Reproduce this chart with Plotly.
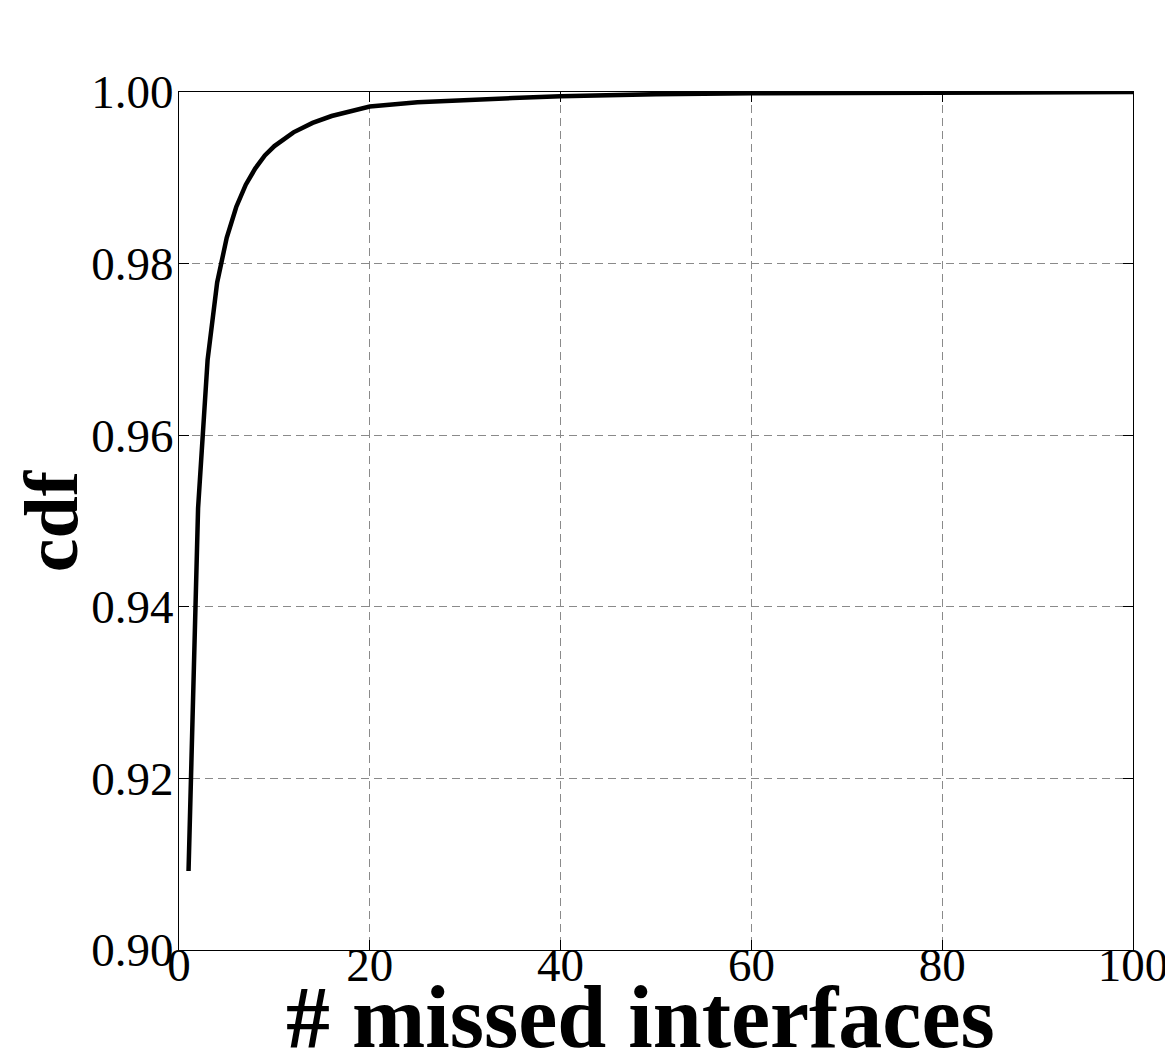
import plotly.graph_objects as go

# Data
missed = [1, 2, 3, 4, 5, 6, 7, 8, 9, 10, 12, 14, 16, 18, 20, 25, 30, 35, 40, 45, 50, 60, 70, 80, 90, 100]
cdf = [0.9092, 0.9515, 0.9688, 0.9778, 0.9830, 0.9866, 0.9892, 0.9911, 0.9926, 0.9937,
       0.9953, 0.9964, 0.9972, 0.9978, 0.9983, 0.9988, 0.9991, 0.9993, 0.9995, 0.99965,
       0.99975, 0.99985, 0.9999, 0.99995, 0.99997, 0.99999]

x_ticks = [0, 20, 40, 60, 80, 100]
y_ticks = [0.90, 0.92, 0.94, 0.96, 0.98, 1.00]

FONT = "Liberation Serif"

fig = go.Figure()
fig.add_trace(go.Scatter(x=missed, y=cdf, mode="lines",
                         line=dict(color="black", width=4.5), showlegend=False))

axis_common = dict(
    showline=True, linecolor="black", linewidth=1.2, mirror="ticks",
    ticks="inside", ticklen=10, tickwidth=1.2, tickcolor="black",
    showgrid=True, gridcolor="#8a8a8a", gridwidth=1.2, griddash="8px,5px",
    zeroline=False, automargin=False,
    tickfont=dict(family=FONT, size=47, color="black"),
)

fig.update_xaxes(range=[0, 100], tickvals=x_ticks, ticktext=[str(v) for v in x_ticks],
                 ticklabelstandoff=-27, **axis_common)
fig.update_yaxes(range=[0.90, 1.00], tickvals=y_ticks, ticktext=[f"{v:.2f}" for v in y_ticks],
                 ticklabelstandoff=-5, **axis_common)

fig.add_annotation(text="<b># missed interfaces</b>", xref="paper", yref="paper",
                   x=0.484, y=-0.079, xanchor="center", yanchor="middle",
                   showarrow=False, font=dict(family=FONT, size=88, color="black"))
fig.add_annotation(text="<b>cdf</b>", xref="paper", yref="paper",
                   x=-0.134, y=0.5, xanchor="center", yanchor="middle", textangle=-90,
                   showarrow=False, font=dict(family=FONT, size=76, color="black"))

# page body has an 8px default margin, so the figure is sized to fit inside it
fig.update_layout(
    width=1165, height=1054,
    margin=dict(l=171, r=40, t=84, b=112),
    paper_bgcolor="white", plot_bgcolor="white",
)

fig.write_html("out.html")
